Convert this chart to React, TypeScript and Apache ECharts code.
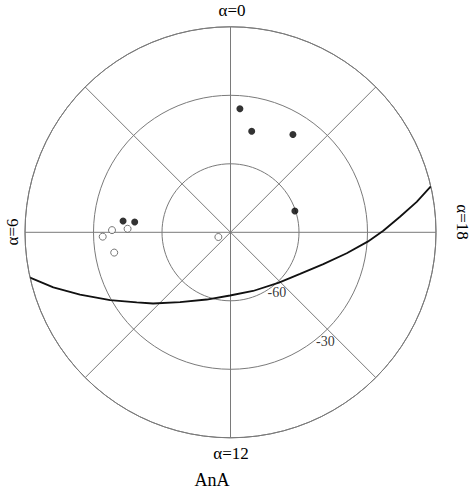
import React, { useEffect, useRef } from "react";
import * as echarts from "echarts";

// Right ascension (hours) and declination (deg)
const filledRA = [23.71, 23.21, 21.83, 19.22, 5.6, 5.59];
const filledDec = [-35.7, -44.8, -39.2, -60.3, -42.7, -47.8];
const openRA = [5.93, 5.87, 6.13, 6.66, 7.41];
const openDec = [-38.1, -44.9, -34.0, -38.3, -84.3];
// Thick curve (galactic plane as drawn)
const curveRA = [6.85, 7.15, 7.5, 7.96, 8.45, 8.84, 9.61, 10.7, 11.97, 13.4, 14.93, 15.94, 16.74, 17.32, 17.74, 18.04, 18.35, 18.62, 18.86];
const curveDec = [0.0, -8.76, -18.66, -29.47, -38.76, -43.93, -52.29, -58.77, -62.32, -62.47, -59.43, -54.5, -47.04, -38.28, -29.78, -23.08, -15.46, -7.36, 0.0];
// Declination circle labels (placed along the alpha = 15 spoke)
const decLabels = [-60, -30];
const decLabelRA = 15;
const alphaLabels = ["α=0", "α=6", "α=12", "α=18"];
const titleText = "AnA";

const SERIF = "Liberation Serif";

function txt(text: string, x: number, y: number, size: number, rotation = 0) {
  return {
    type: "text",
    x,
    y,
    rotation,
    style: {
      text,
      fontSize: size,
      fontFamily: SERIF,
      fill: "#000",
      align: "center",
      verticalAlign: "middle",
    },
  };
}

export default function App() {
  const ref = useRef<HTMLDivElement>(null);
  useEffect(() => {
    if (!ref.current) return;
    const chart = echarts.init(ref.current, null, { renderer: "svg" });
    const grid = "#7a7a7a";
    chart.setOption({
      animation: false,
      backgroundColor: "#ffffff",
      polar: { center: [230.5, 232.3], radius: 205.5 },
      angleAxis: {
        type: "value",
        min: 0,
        max: 24,
        interval: 3,
        startAngle: 90,
        clockwise: false,
        axisLine: { show: true, lineStyle: { color: grid, width: 1 } },
        axisTick: { show: false },
        axisLabel: { show: false },
        splitLine: { show: true, lineStyle: { color: grid, width: 1 } },
      },
      radiusAxis: {
        type: "value",
        min: -90,
        max: 0,
        interval: 30,
        axisLine: { show: false },
        axisTick: { show: false },
        axisLabel: { show: false },
        splitLine: { show: true, lineStyle: { color: grid, width: 1 } },
      },
      graphic: [
        txt(alphaLabels[0], 232, 10, 17),
        txt(alphaLabels[1], 12, 232, 17, Math.PI / 2),
        txt(alphaLabels[2], 231, 453, 17),
        txt(alphaLabels[3], 462, 222, 17, -Math.PI / 2),
        txt(titleText, 212, 480, 18),
      ],
      series: [
        {
          type: "line",
          coordinateSystem: "polar",
          data: curveRA.map((a, i) => [curveDec[i], a]),
          showSymbol: false,
          smooth: false,
          lineStyle: { color: "#111", width: 1.8 },
          z: 3,
        },
        {
          type: "scatter",
          coordinateSystem: "polar",
          data: filledRA.map((a, i) => [filledDec[i], a]),
          symbol: "circle",
          symbolSize: 7,
          itemStyle: { color: "#000" },
          z: 4,
        },
        {
          type: "scatter",
          coordinateSystem: "polar",
          data: openRA.map((a, i) => [openDec[i], a]),
          symbol: "circle",
          symbolSize: 7,
          itemStyle: { color: "#fff", borderColor: "#555", borderWidth: 1 },
          z: 4,
        },
        {
          type: "scatter",
          coordinateSystem: "polar",
          data: decLabels.map((d) => [d, decLabelRA]),
          symbolSize: 0,
          silent: true,
          label: {
            show: true,
            position: "bottom",
            distance: 4,
            offset: [-2, 1],
            formatter: (p: any) => String(p.value[0]),
            fontFamily: SERIF,
            fontSize: 14,
            color: "#000",
          },
          z: 5,
        },
      ],
    });
    return () => chart.dispose();
  }, []);
  return (
    <div
      ref={ref}
      style={{ position: "fixed", left: 0, top: 0, width: 471, height: 491 }}
    />
  );
}
